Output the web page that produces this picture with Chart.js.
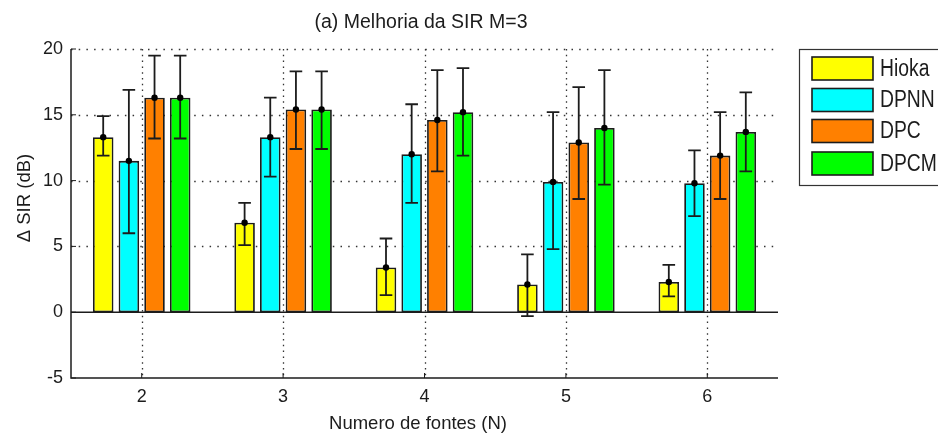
<!DOCTYPE html>
<html>
<head>
<meta charset="utf-8">
<script src="https://cdn.jsdelivr.net/npm/chart.js@4.4.1/dist/chart.umd.min.js"></script>
<style>
  html, body { margin: 0; padding: 0; background: #fff; }
  #wrap { width: 938px; height: 439px; }
</style>
</head>
<body>
<div id="wrap"><canvas id="myChart" width="938" height="439"></canvas></div>
<script>
// number of sources (x categories)
const fontes = ['2', '3', '4', '5', '6'];
const yTicks = [-5, 0, 5, 10, 15, 20];

// mean SIR improvement per method, with error bar ends
const hioka   = [13.3, 6.8, 3.4, 2.1, 2.3];
const hiokaLo = [11.9, 5.1, 1.3, -0.3, 1.2];
const hiokaHi = [14.9, 8.3, 5.6, 4.4, 3.6];

const dpnn   = [11.5, 13.3, 12.0, 9.9, 9.8];
const dpnnLo = [6.0, 10.3, 8.3, 4.8, 7.3];
const dpnnHi = [16.9, 16.3, 15.8, 15.2, 12.3];

const dpc   = [16.3, 15.4, 14.6, 12.9, 11.9];
const dpcLo = [13.2, 12.4, 10.7, 8.6, 8.6];
const dpcHi = [19.5, 18.3, 18.4, 17.1, 15.2];

const dpcm   = [16.3, 15.4, 15.2, 14.0, 13.7];
const dpcmLo = [13.2, 12.4, 11.9, 9.7, 10.7];
const dpcmHi = [19.5, 18.3, 18.55, 18.4, 16.7];

const FONT = "'Liberation Sans', Arial, Helvetica, sans-serif";
const INK = '#1c1c1c';

const series = [
  { label: 'Hioka', data: hioka, lo: hiokaLo, hi: hiokaHi, color: '#ffff00' },
  { label: 'DPNN',  data: dpnn,  lo: dpnnLo,  hi: dpnnHi,  color: '#00ffff' },
  { label: 'DPC',   data: dpc,   lo: dpcLo,   hi: dpcHi,   color: '#ff8000' },
  { label: 'DPCM',  data: dpcm,  lo: dpcmLo,  hi: dpcmHi,  color: '#00ff00' }
];

// dotted grid + axes in the old matlab look
const axesPlugin = {
  id: 'matlabAxes',
  beforeDatasetsDraw(chart) {
    const { ctx, chartArea: a, scales: { x, y } } = chart;
    ctx.save();
    ctx.strokeStyle = '#333';
    ctx.lineWidth = 1.3;
    ctx.setLineDash([1.5, 6.2]);
    yTicks.forEach(v => {
      if (v <= 0) return;
      const py = Math.round(y.getPixelForValue(v)) + 0.5;
      ctx.beginPath();
      ctx.moveTo(a.left, py);
      ctx.lineTo(a.right, py);
      ctx.stroke();
    });
    ctx.setLineDash([1.5, 4.3]);
    fontes.forEach((f, i) => {
      const px = Math.round(x.getPixelForValue(i)) + 0.5;
      ctx.beginPath();
      ctx.moveTo(px, a.top);
      ctx.lineTo(px, a.bottom);
      ctx.stroke();
    });
    ctx.restore();
  },
  afterDatasetsDraw(chart) {
    const { ctx, chartArea: a, scales: { x, y } } = chart;
    ctx.save();
    ctx.strokeStyle = INK;
    ctx.lineWidth = 1.5;
    ctx.setLineDash([]);

    // zero baseline
    const y0 = y.getPixelForValue(0);
    ctx.beginPath();
    ctx.moveTo(a.left, y0);
    ctx.lineTo(a.right, y0);
    ctx.stroke();

    // left and bottom axis lines
    ctx.beginPath();
    ctx.moveTo(a.left, a.top);
    ctx.lineTo(a.left, a.bottom);
    ctx.lineTo(a.right, a.bottom);
    ctx.stroke();

    // small inward ticks
    ctx.lineWidth = 1;
    yTicks.forEach(v => {
      const py = y.getPixelForValue(v);
      ctx.beginPath();
      ctx.moveTo(a.left, py);
      ctx.lineTo(a.left + 5, py);
      ctx.stroke();
    });
    fontes.forEach((f, i) => {
      const px = x.getPixelForValue(i);
      ctx.beginPath();
      ctx.moveTo(px, a.bottom);
      ctx.lineTo(px, a.bottom - 5);
      ctx.stroke();
    });

    // error bars
    ctx.lineWidth = 1.8;
    series.forEach((s, di) => {
      const meta = chart.getDatasetMeta(di);
      meta.data.forEach((bar, j) => {
        const cx = bar.x;
        const top = y.getPixelForValue(s.hi[j]);
        const bot = y.getPixelForValue(s.lo[j]);
        ctx.beginPath();
        ctx.moveTo(cx, top);
        ctx.lineTo(cx, bot);
        ctx.moveTo(cx - 6.3, top);
        ctx.lineTo(cx + 6.3, top);
        ctx.moveTo(cx - 6.3, bot);
        ctx.lineTo(cx + 6.3, bot);
        ctx.stroke();
        ctx.fillStyle = '#000';
        ctx.beginPath();
        ctx.arc(cx, bar.y, 3.2, 0, Math.PI * 2);
        ctx.fill();
      });
    });
    ctx.restore();
  },
  afterDraw(chart) {
    const { ctx } = chart;
    ctx.save();
    ctx.fillStyle = INK;
    ctx.textAlign = 'center';
    ctx.textBaseline = 'middle';

    ctx.font = '19.5px ' + FONT;
    ctx.fillText('(a) Melhoria da SIR M=3', 421, 23);

    ctx.font = '18.5px ' + FONT;
    ctx.fillText('Numero de fontes (N)', 418, 424);

    ctx.save();
    ctx.translate(25, 198);
    ctx.rotate(-Math.PI / 2);
    ctx.fillText('\u0394 SIR (dB)', 0, 0);
    ctx.restore();

    // legend box
    ctx.fillStyle = '#fff';
    ctx.fillRect(799, 49, 150, 136);
    ctx.strokeStyle = '#333';
    ctx.lineWidth = 1.2;
    ctx.strokeRect(799.5, 49.5, 150, 136);
    const rows = [68.5, 100, 131, 163.5];
    ctx.textAlign = 'left';
    ctx.font = '23px ' + FONT;
    series.forEach((s, i) => {
      const cy = rows[i];
      ctx.fillStyle = s.color;
      ctx.fillRect(812, cy - 11.5, 61, 23);
      ctx.strokeStyle = INK;
      ctx.lineWidth = 1.6;
      ctx.strokeRect(812, cy - 11.5, 61, 23);
      // narrow legend lettering
      ctx.save();
      ctx.translate(880, cy + 1);
      ctx.scale(0.84, 1);
      ctx.fillStyle = INK;
      ctx.fillText(s.label, 0, 0);
      ctx.restore();
    });
    ctx.restore();
  }
};

const ctx = document.querySelector('#myChart').getContext('2d');
const chart = new Chart(ctx, {
  type: 'bar',
  data: {
    labels: fontes,
    datasets: series.map(s => ({
      label: s.label,
      data: s.data,
      backgroundColor: s.color,
      borderColor: INK,
      borderWidth: 1.8,
      borderSkipped: false,
      categoryPercentage: 0.726,
      barPercentage: 0.8
    }))
  },
  options: {
    responsive: false,
    animation: false,
    layout: { padding: { left: 0, right: 160, top: 49, bottom: 0 } },
    plugins: {
      legend: { display: false },
      title: { display: false },
      tooltip: { enabled: false }
    },
    scales: {
      x: {
        type: 'category',
        offset: true,
        grid: { display: false, drawTicks: false },
        border: { display: false },
        ticks: { color: INK, font: { family: FONT, size: 18 }, padding: 8 },
        afterFit(scale) { scale.height = 61; }
      },
      y: {
        min: -5,
        max: 20,
        grid: { display: false, drawTicks: false },
        border: { display: false },
        ticks: {
          stepSize: 5,
          color: INK,
          font: { family: FONT, size: 18 },
          padding: 8
        },
        afterFit(scale) { scale.width = 71; }
      }
    }
  },
  plugins: [axesPlugin]
});
</script>
</body>
</html>
